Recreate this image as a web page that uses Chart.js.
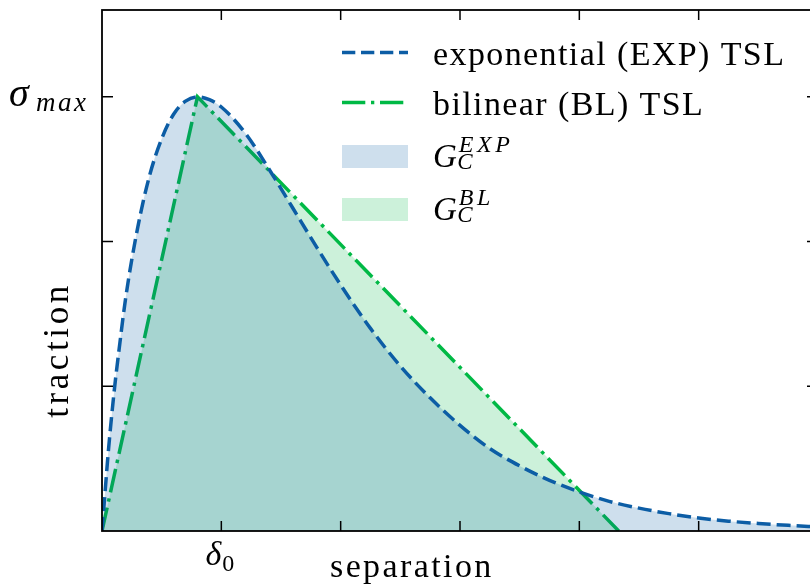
<!DOCTYPE html>
<html><head><meta charset="utf-8">
<script src="https://cdn.jsdelivr.net/npm/chart.js@4"></script>
<style>
html,body{margin:0;padding:0;background:#fff;overflow:hidden;width:810px;height:586px}
#wrap{position:relative;width:830px;height:586px}
</style>
</head><body><div id="wrap"><canvas id="c" width="830" height="586"></canvas></div>
<script>
// ---- data ----
const expX = [0, 0.025, 0.05, 0.1, 0.15, 0.2, 0.3, 0.4, 0.5, 0.6, 0.7, 0.8, 0.9, 1.0, 1.2, 1.4, 1.6, 1.8, 2.0, 2.25, 2.5, 2.75, 3.0, 3.25, 3.5, 3.75, 4.0, 4.25, 4.5, 4.75, 5.0, 5.25, 5.5, 5.75, 6.0];
const expY = [0, 0.26, 0.52, 0.95, 1.30, 1.62, 2.10, 2.46, 2.71, 2.88, 2.97, 3.00, 2.98, 2.93, 2.75, 2.50, 2.23, 1.96, 1.70, 1.40, 1.14, 0.92, 0.73, 0.57, 0.45, 0.35, 0.27, 0.205, 0.158, 0.12, 0.09, 0.068, 0.052, 0.039, 0.028];
const blX = [0, 0.8, 4.33];
const blY = [0, 3, 0];
const xTickValues = [1, 2, 3, 4, 5];
const yTickValues = [1, 2, 3];
const xTickLabel = { value: 1, base: 'δ', sub: '0' };
const yTickLabel = { value: 3, base: 'σ', sub: 'max' };
const lineLabels = ['exponential (EXP) TSL', 'bilinear (BL) TSL'];
const areaLabels = [{ base: 'G', sub: 'C', sup: 'EXP' }, { base: 'G', sub: 'C', sup: 'BL' }];
const xTitle = 'separation';
const yTitle = 'traction';

const BLUE = '#0C5DA5', GREEN = '#00B945';
const BLUE_F = 'rgba(12,93,165,0.2)', GREEN_F = 'rgba(0,185,69,0.2)';
const SERIF = '"Liberation Serif", "Times New Roman", serif';

function txt(ctx, s, x, y, font, align, spacing) {
  ctx.font = font;
  ctx.letterSpacing = (spacing || 0) + 'px';
  ctx.textAlign = align || 'left';
  ctx.textBaseline = 'alphabetic';
  ctx.fillStyle = '#000';
  ctx.fillText(s, x, y);
  const w = ctx.measureText(s).width;
  ctx.letterSpacing = '0px';
  return w;
}

const decor = {
  id: 'decor',
  afterDraw(chart) {
    const ctx = chart.ctx, a = chart.chartArea;
    const xs = chart.scales.x, ys = chart.scales.y;
    ctx.save();
    // frame
    ctx.strokeStyle = '#000';
    ctx.lineWidth = 1.8;
    ctx.setLineDash([]);
    ctx.strokeRect(a.left, a.top, a.right - a.left, a.bottom - a.top);
    // inward ticks
    ctx.lineWidth = 1.5;
    ctx.beginPath();
    xTickValues.forEach(v => {
      const px = xs.getPixelForValue(v);
      ctx.moveTo(px, a.bottom); ctx.lineTo(px, a.bottom - 10);
      ctx.moveTo(px, a.top); ctx.lineTo(px, a.top + 10);
    });
    yTickValues.forEach(v => {
      const py = ys.getPixelForValue(v);
      ctx.moveTo(a.left, py); ctx.lineTo(a.left + 11, py);
      ctx.moveTo(a.right, py); ctx.lineTo(a.right - 11, py);
    });
    ctx.stroke();

    // tick labels
    const ty = ys.getPixelForValue(yTickLabel.value);
    txt(ctx, yTickLabel.base, 9, ty + 9, 'italic 40px ' + SERIF, 'left', 0);
    txt(ctx, yTickLabel.sub, 36, ty + 14, 'italic 27px ' + SERIF, 'left', 2.5);
    const tx = xs.getPixelForValue(xTickLabel.value);
    txt(ctx, xTickLabel.base, tx, a.bottom + 34, 'italic 34px ' + SERIF, 'right', 0);
    txt(ctx, xTickLabel.sub, tx + 1, a.bottom + 40, '24px ' + SERIF, 'left', 0);

    // axis titles
    txt(ctx, xTitle, 330, 577, '34px ' + SERIF, 'left', 2.4);
    ctx.save();
    ctx.translate(68, 350);
    ctx.rotate(-Math.PI / 2);
    txt(ctx, yTitle, 0, 0, '35px ' + SERIF, 'center', 3.6);
    ctx.restore();

    // legend
    const lx0 = 342, lx1 = 408, tx0 = 433;
    ctx.lineWidth = 3.5;
    ctx.lineCap = 'butt';
    ctx.strokeStyle = BLUE; ctx.setLineDash([13.3, 5.7]);
    ctx.beginPath(); ctx.moveTo(lx0, 52.5); ctx.lineTo(lx1, 52.5); ctx.stroke();
    ctx.strokeStyle = GREEN; ctx.setLineDash([23.3, 5.7, 3.3, 5.7]);
    ctx.beginPath(); ctx.moveTo(lx0, 102.5); ctx.lineTo(lx1, 102.5); ctx.stroke();
    ctx.setLineDash([]);
    txt(ctx, lineLabels[0], tx0, 65, '34px ' + SERIF, 'left', 1.4);
    txt(ctx, lineLabels[1], tx0, 115, '34px ' + SERIF, 'left', 1.4);
    ctx.fillStyle = BLUE_F; ctx.fillRect(lx0, 145, lx1 - lx0, 23);
    ctx.fillStyle = GREEN_F; ctx.fillRect(lx0, 198, lx1 - lx0, 23);
    const gy = [167, 220];
    areaLabels.forEach((l, i) => {
      const w = txt(ctx, l.base, tx0, gy[i], 'italic 33px ' + SERIF, 'left', 0);
      txt(ctx, l.sup, tx0 + w + 2, gy[i] - 15, 'italic 24px ' + SERIF, 'left', 3.5);
      txt(ctx, l.sub, tx0 + w + 0.5, gy[i] + 2, 'italic 23px ' + SERIF, 'left', 0);
    });
    ctx.restore();
  }
};

new Chart(document.getElementById('c'), {
  type: 'line',
  data: {
    datasets: [
      {
        label: lineLabels[0],
        data: expX.map((x, i) => ({ x, y: expY[i] })),
        borderColor: BLUE, borderWidth: 3.5, borderDash: [14, 6], borderCapStyle: 'butt',
        backgroundColor: BLUE_F, fill: 'origin',
        pointRadius: 0, cubicInterpolationMode: 'monotone'
      },
      {
        label: lineLabels[1],
        data: blX.map((x, i) => ({ x, y: blY[i] })),
        borderColor: GREEN, borderWidth: 3.5, borderDash: [24, 6, 3.5, 6], borderCapStyle: 'butt',
        backgroundColor: GREEN_F, fill: 'origin',
        pointRadius: 0, tension: 0
      }
    ]
  },
  options: {
    responsive: false,
    animation: false,
    devicePixelRatio: 1,
    layout: { padding: { left: 102, top: 10, right: 12, bottom: 55 } },
    scales: {
      x: { type: 'linear', min: 0, max: 6, display: false },
      y: { type: 'linear', min: 0, max: 3.6, display: false }
    },
    plugins: { legend: { display: false }, tooltip: { enabled: false } }
  },
  plugins: [decor]
});
</script>
</body></html>
